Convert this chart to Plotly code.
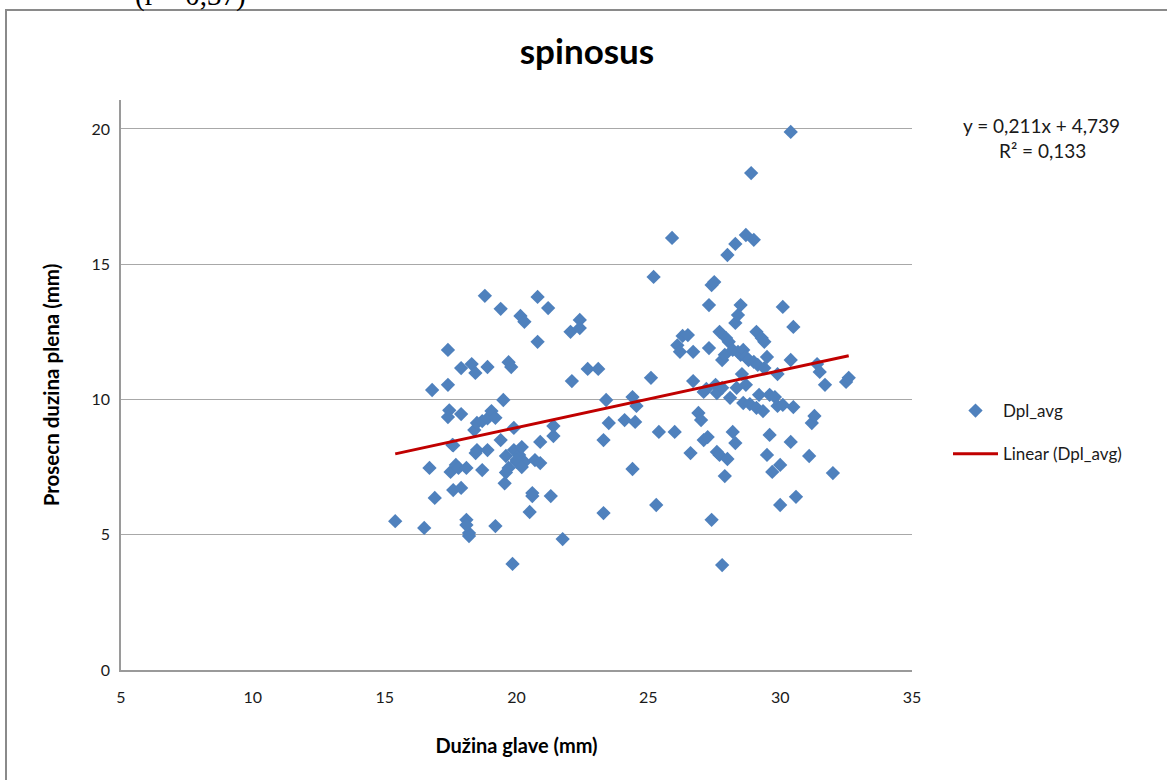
import plotly.graph_objects as go

# ---- data ----
dug_glave = [
    15.4, 16.5, 16.8, 16.7, 16.9, 17.4, 17.4, 17.45, 17.4, 17.5, 17.57, 17.6, 17.7, 17.8, 17.9, 17.9,
    17.9, 18.1, 18.1, 18.2, 18.3, 18.2, 18.44, 18.4, 18.5, 18.5, 18.7, 18.8, 18.9, 18.9, 18.9, 19.05,
    19.2, 19.2, 19.4, 19.4, 19.5, 19.6, 19.7, 19.7, 19.8, 19.85, 19.9, 19.9, 20.0, 20.1, 20.15, 20.2,
    20.3, 20.3, 20.5, 20.6, 20.6, 20.7, 20.8, 20.8, 20.9, 20.9, 21.2, 21.3, 21.4, 21.4, 21.75, 22.05,
    22.1, 22.4, 22.4, 22.7, 23.1, 23.3, 23.3, 23.4, 23.5, 24.1, 24.4, 24.4, 24.5, 24.55, 25.1, 25.2,
    25.3, 25.4, 17.6, 18.7, 18.45, 20.0, 20.2, 19.55, 19.6, 18.1,
    25.9, 26.0, 26.1, 26.2, 26.3, 26.5, 26.6, 26.7, 26.7, 26.9, 27.0, 27.1, 27.1, 27.2, 27.25, 27.3,
    27.3, 27.4, 27.4, 27.5, 27.55, 27.6, 27.6, 27.7, 27.7, 27.8, 27.8, 27.8, 27.9, 27.9, 27.95, 28.0,
    28.0, 28.05, 28.1, 28.2, 28.2, 28.3, 28.3, 28.3, 28.35, 28.4, 28.4, 28.5, 28.5, 28.55, 28.6, 28.6,
    28.7, 28.7, 28.7, 28.8, 28.85, 28.9, 29.0, 29.0, 29.1, 29.1, 29.15, 29.2, 29.3, 29.35, 29.4, 29.4,
    29.5, 29.5, 29.6, 29.6, 29.7, 29.8, 29.9, 29.9, 30.0, 30.0, 30.1, 30.1, 30.4, 30.4, 30.4, 30.5,
    30.5, 30.6, 31.4, 31.5, 31.1, 31.2, 31.3, 31.7, 32.0, 32.5, 32.6,
]
dpl_avg = [
    5.5, 5.25, 10.35, 7.47, 6.36, 11.83, 10.54, 9.6, 9.35, 7.32, 8.32, 6.65, 7.58, 7.47, 9.46, 6.73,
    11.16, 5.55, 7.47, 5.06, 11.31, 4.95, 10.98, 8.87, 8.13, 9.13, 9.2, 13.83, 11.2, 9.3, 8.13, 9.57,
    9.32, 5.32, 13.35, 8.5, 9.98, 7.91, 7.47, 11.38, 11.2, 3.92, 8.13, 8.95, 7.69, 7.95, 13.09, 8.24,
    12.87, 7.69, 5.84, 6.43, 6.54, 7.76, 12.13, 13.79, 8.43, 7.65, 13.38, 6.43, 8.65, 9.02, 4.84, 12.5,
    10.68, 12.94, 12.64, 11.13, 11.13, 5.8, 8.5, 9.98, 9.13, 9.24, 10.09, 7.43, 9.17, 9.76, 10.8, 14.53,
    6.1, 8.8, 8.3, 7.39, 8.02, 7.76, 7.5, 6.9, 7.3, 5.36,
    15.97, 8.8, 12.0, 11.76, 12.35, 12.38, 8.02, 10.68, 11.76, 9.5, 9.24, 8.5, 10.28, 10.39, 8.61, 13.49,
    11.9, 5.55, 14.23, 14.34, 10.54, 8.06, 10.24, 12.5, 7.95, 11.46, 3.88, 10.43, 7.17, 11.65, 12.27, 7.8,
    15.34, 12.13, 10.06, 8.8, 11.83, 15.75, 12.83, 8.39, 10.43, 13.12, 11.76, 13.49, 11.65, 10.94, 11.83, 9.87,
    16.08, 11.57, 10.54, 11.46, 9.83, 18.37, 15.9, 11.39, 12.5, 9.69, 11.28, 10.17, 12.27, 9.57, 11.16, 12.13,
    11.57, 7.95, 10.17, 8.69, 7.32, 10.09, 9.76, 10.94, 6.1, 7.58, 13.42, 9.8, 19.89, 8.43, 11.46, 12.68,
    9.72, 6.4, 11.31, 11.02, 7.91, 9.13, 9.39, 10.54, 7.28, 10.65, 10.8,
]
trend_slope = 0.211
trend_intercept = 4.739
r_squared = 0.133
x_ticks = [5, 10, 15, 20, 25, 30, 35]
y_ticks = [0, 5, 10, 15, 20]

FONT = "Lato, 'Open Sans', sans-serif"

x_line = [min(dug_glave), max(dug_glave)]
y_line = [trend_slope * v + trend_intercept for v in x_line]

fig = go.Figure()
fig.add_trace(go.Scatter(
    x=dug_glave, y=dpl_avg, mode="markers", name="Dpl_avg",
    marker=dict(symbol="diamond", size=11, color="#4F81BD", line=dict(width=0)),
    legendgroup="a",
))
fig.add_trace(go.Scatter(
    x=x_line, y=y_line, mode="lines", name="Linear (Dpl_avg)",
    line=dict(color="#C00000", width=3),
    legendgroup="b",
))

L, R, T, B = 121, 255, 100, 110
W, H = 1167, 780
pw = W - L - R
ph = H - T - B

def px_x(p):
    return (p - L) / pw

def px_y(p):
    return (H - B - p) / ph

def fmt(v):
    return str(v).replace('.', ',')

fig.update_layout(
    width=W, height=H,
    margin=dict(l=L, r=R, t=T, b=B, pad=0),
    paper_bgcolor="white", plot_bgcolor="white",
    font=dict(family=FONT, size=16, color="#1a1a1a"),
    title=dict(text="<b>spinosus</b>", x=587 / W, xanchor="center", y=1 - 52 / H,
               yanchor="middle", xref="container",
               font=dict(family=FONT, size=35, color="#000")),
    xaxis=dict(range=[5, 35], tickvals=x_ticks, showgrid=False, zeroline=False,
               showline=True, linecolor="#9a9a9a", linewidth=1.5, ticks="",
               ticklabelstandoff=12, tickfont=dict(size=16),
               title=dict(text="<b>Dužina glave (mm)</b>", standoff=34,
                          font=dict(size=20, color="#000"))),
    yaxis=dict(range=[0, 21.07], tickvals=y_ticks, showgrid=True, gridcolor="#a8a8a8",
               gridwidth=1, zeroline=False, showline=True, linecolor="#9a9a9a",
               linewidth=1.5, ticks="", ticklabelstandoff=6, tickfont=dict(size=16),
               title=dict(text="<b>Prosecn duzina plena (mm)</b>", standoff=26,
                          font=dict(size=20.5, color="#000"))),
    legend=dict(x=px_x(948), xanchor="left", y=px_y(393), yanchor="top",
                bgcolor="rgba(0,0,0,0)", font=dict(size=17), traceorder="grouped",
                tracegroupgap=18, itemwidth=45),
    showlegend=True,
)

fig.add_annotation(
    xref="paper", yref="paper", x=px_x(1041), y=px_y(125), xanchor="center", yanchor="middle",
    text=f"y = {fmt(trend_slope)}x + {fmt(trend_intercept)}",
    showarrow=False, font=dict(size=19, color="#1a1a1a"),
)
fig.add_annotation(
    xref="paper", yref="paper", x=px_x(1042), y=px_y(150), xanchor="center", yanchor="middle",
    text=f"R² = {fmt(r_squared)}",
    showarrow=False, font=dict(size=19, color="#1a1a1a"),
)

# cut-off caption above the chart frame
fig.add_annotation(
    xref="paper", yref="paper", x=px_x(190), y=px_y(-5), xanchor="center", yanchor="middle",
    text="(r = 0,37)", showarrow=False,
    font=dict(family="'Liberation Serif', 'Times New Roman', serif", size=29, color="#000"),
)

# chart frame
fig.add_shape(type="rect", xref="paper", yref="paper",
              x0=px_x(6), x1=px_x(1190), y0=px_y(10), y1=px_y(800),
              line=dict(color="#8a8a8a", width=2), fillcolor="rgba(0,0,0,0)", layer="below")

fig.write_html("out.html", config={"displayModeBar": False},
               post_script="document.body.style.margin='0px';document.body.style.overflow='hidden';")
